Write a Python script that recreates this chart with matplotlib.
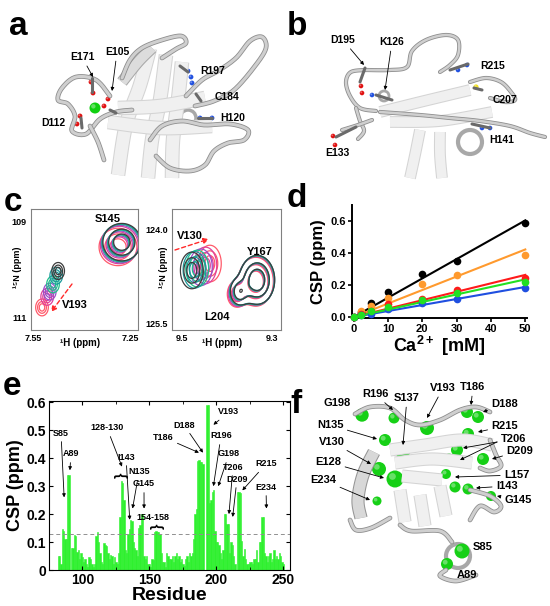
import numpy as np
import matplotlib
matplotlib.use("Agg")
import matplotlib.pyplot as plt
import matplotlib.patheffects as pe
from matplotlib.patches import Circle

plt.rcParams["font.family"] = ["Liberation Sans", "DejaVu Sans"]
plt.rcParams["font.weight"] = "bold"
plt.rcParams["axes.labelweight"] = "bold"
plt.rcParams["mathtext.fontset"] = "custom"
plt.rcParams["mathtext.rm"] = "Liberation Sans:bold"
plt.rcParams["mathtext.bf"] = "Liberation Sans:bold"

# ---------------- data ----------------
# panel d: CSP vs Ca2+ titration
ca_mM = [0, 2, 5, 10, 20, 30, 50]
csp_black = [0, 0.03, 0.085, 0.155, 0.27, 0.35, 0.59]
csp_orange = [0, 0.035, 0.07, 0.12, 0.205, 0.265, 0.39]
csp_red = [0, 0.02, 0.04, 0.08, 0.115, 0.17, 0.245]
csp_blue = [0, 0.01, 0.02, 0.05, 0.085, 0.115, 0.18]
csp_green = [0, 0.015, 0.04, 0.065, 0.105, 0.15, 0.22]

# panel e: CSP per residue (0 = no data)
first_residue = 82
csp_residue = [
    0.05, 0.05, 0.02, 0.145, 0.14, 0.11, 0.11, 0.34, 0.34, 0.0,
    0.08, 0.08, 0.125, 0.12, 0.065, 0.07, 0.04, 0.06, 0.045, 0.03,
    0.04, 0.02, 0.01, 0.045, 0.04, 0.02, 0.01, 0.02, 0.12, 0.135,
    0.1, 0.06, 0.03, 0.02, 0.095, 0.09, 0.085, 0.06, 0.04, 0.055,
    0.05, 0.02, 0.045, 0.03, 0.02, 0.06, 0.19, 0.32, 0.31, 0.25,
    0.07, 0.06, 0.13, 0.145, 0.18, 0.175, 0.1, 0.08, 0.07, 0.05,
    0.15, 0.16, 0.2, 0.2, 0.05, 0.04, 0.05, 0.02, 0.02, 0.01,
    0.04, 0.035, 0.135, 0.14, 0.135, 0.135, 0.13, 0.06, 0.03, 0.03,
    0.01, 0.06, 0.05, 0.04, 0.04, 0.05, 0.03, 0.05, 0.06, 0.04,
    0.05, 0.03, 0.04, 0.02, 0.015, 0.04, 0.05, 0.03, 0.06, 0.05,
    0.06, 0.11, 0.2, 0.22, 0.39, 0.395, 0.385, 0.385, 0.38, 0.0,
    0.0, 0.59, 0.59, 0.24, 0.25, 0.28, 0.285, 0.14, 0.1, 0.1,
    0.09, 0.06, 0.04, 0.07, 0.2, 0.2, 0.165, 0.165, 0.06, 0.1,
    0.09, 0.05, 0.02, 0.0, 0.28, 0.28, 0.275, 0.105, 0.05, 0.075,
    0.04, 0.02, 0.02, 0.03, 0.03, 0.02, 0.04, 0.04, 0.07, 0.03,
    0.1, 0.1, 0.19, 0.19, 0.06, 0.05, 0.03, 0.05, 0.06, 0.03,
    0.04, 0.07, 0.04, 0.05, 0.04, 0.06, 0.05, 0.03, 0.02,
]
csp_cutoff = 0.13

# labels in panel e: (label, residue of arrow tip, CSP of arrow tip)
e_labels = ["S85", "A89", "128-130", "I143", "N135", "G145", "T186", "D188",
            "V193", "R196", "G198", "T206", "D209", "R215", "E234"]
e_tip_res = [86.3, 90.6, 129.5, 135.3, 137.4, 146, 187, 190,
             197.8, 197.8, 201.4, 209.4, 212.2, 219.4, 237.4]
e_tip_csp = [0.26, 0.357, 0.37, 0.18, 0.22, 0.22, 0.42, 0.42,
             0.52, 0.30, 0.30, 0.20, 0.19, 0.285, 0.22]
e_braces = ["128-130", "154-158"]
e_brace_res = [129.5, 156]
e_brace_csp = [0.33, 0.145]

# panel c: peak centres per titration step (0 -> 50 mM)
v193_h = [7.472, 7.478, 7.488, 7.498, 7.506, 7.522]
v193_n = [110.02, 110.12, 110.30, 110.45, 110.56, 110.78]
s145_h = [7.275, 7.277, 7.278, 7.280, 7.283, 7.287]
s145_n = [109.42, 109.43, 109.44, 109.46, 109.48, 109.52]
v130_h = [9.478, 9.472, 9.466, 9.458, 9.448, 9.438]
v130_n = [124.66, 124.65, 124.63, 124.61, 124.58, 124.55]
y167_h = [9.333, 9.333, 9.334, 9.334, 9.335, 9.336]
y167_n = [124.81, 124.81, 124.82, 124.82, 124.83, 124.84]
l204_h = [9.372, 9.373, 9.374, 9.375, 9.377, 9.379]
l204_n = [125.00, 125.00, 125.01, 125.02, 125.03, 125.04]
step_colors = ["#3c3c3c", "#1a9a9a", "#1fc08a", "#9a4fc8", "#e0409a", "#ff5a6a"]

# structure panels: residue labels
a_labels = ["E171", "E105", "R197", "C184", "H120", "D112"]
b_labels = ["D195", "K126", "R215", "C207", "H141", "E133"]
f_labels = ["G198", "R196", "S137", "V193", "T186", "D188", "R215", "T206",
            "D209", "L157", "I143", "G145", "N135", "V130", "E128", "E234",
            "S85", "A89"]

# ---------------- figure ----------------
W, H = 550, 606
fig = plt.figure(figsize=(W / 100, H / 100), dpi=100)


def px_axes(l, t, r, b, **kw):
    return fig.add_axes([l / W, 1 - b / H, (r - l) / W, (b - t) / H], **kw)


ov = fig.add_axes([0, 0, 1, 1], zorder=10)
ov.set_xlim(0, W)
ov.set_ylim(H, 0)
ov.axis("off")
ov.patch.set_alpha(0)


def smooth(pts, n=14):
    p = np.asarray(pts, float)
    p = np.vstack([p[0], p, p[-1]])
    out = []
    t = np.linspace(0, 1, n, endpoint=False)[:, None]
    for i in range(1, len(p) - 2):
        p0, p1, p2, p3 = p[i - 1], p[i], p[i + 1], p[i + 2]
        out.append(0.5 * (2 * p1 + (-p0 + p2) * t
                          + (2 * p0 - 5 * p1 + 4 * p2 - p3) * t ** 2
                          + (-p0 + 3 * p1 - 3 * p2 + p3) * t ** 3))
    out.append(p[-2][None])
    return np.vstack(out)


def tube(pts, lw=2.2):
    c = smooth(pts)
    ov.plot(c[:, 0], c[:, 1], color="#cfcfcf", lw=lw, solid_capstyle="round",
            path_effects=[pe.Stroke(linewidth=lw + 1.2, foreground="#8e8e8e"), pe.Normal()])


def strand(pts, lw=9, face="#f0f0f0", edge="#d4d4d4"):
    c = smooth(pts)
    ov.plot(c[:, 0], c[:, 1], color=face, lw=lw, solid_capstyle="butt",
            path_effects=[pe.Stroke(linewidth=lw + 1.5, foreground=edge), pe.Normal()])


def ring(x, y, r, lw=2.5):
    ov.add_patch(Circle((x, y), r, fill=False, ec="#a8a8a8", lw=lw))


def stick(pts):
    p = np.asarray(pts, float)
    ov.plot(p[:, 0], p[:, 1], color="#6a6a6a", lw=2.2, solid_capstyle="round")


def ball(x, y, r, color):
    ov.add_patch(Circle((x, y), r, fc=color, ec="none"))
    ov.add_patch(Circle((x - r * 0.3, y - r * 0.3), r * 0.4, fc="white", ec="none", alpha=0.35))


def label(txt, xy, tip=None, size=7.5):
    if tip is None:
        ov.text(xy[0], xy[1], txt, ha="center", va="center", fontsize=size)
    else:
        ov.annotate(txt, xy=tip, xytext=xy, ha="center", va="center", fontsize=size,
                    arrowprops=dict(arrowstyle="-|>", lw=0.6, color="k",
                                    mutation_scale=5, shrinkA=1, shrinkB=0))


# panel letters
for letter, x, y in [("a", 9, 35), ("b", 287, 35), ("c", 4, 211),
                     ("d", 287, 207), ("e", 3, 395), ("f", 290, 413)]:
    ov.text(x, y, letter, fontsize=24, ha="left", va="baseline")

# ---------------- panel a (structure sketch) ----------------
for s in [[(150, 48), (140, 85), (126, 125), (118, 175)],
          [(166, 55), (160, 100), (152, 140), (148, 178)],
          [(182, 62), (178, 100), (173, 140), (172, 178)],
          [(118, 108), (160, 106), (205, 98)],
          [(108, 122), (160, 128), (212, 126)]]:
    strand(s)
strand([(122, 82), (138, 62), (152, 48)], lw=7, face="#dcdcdc", edge="#a8a8a8")
tube([(110, 96), (96, 80), (76, 77), (62, 88), (58, 100), (68, 104), (75, 116),
      (72, 131), (86, 134), (100, 119), (116, 112), (132, 110)])
tube([(122, 78), (130, 60), (142, 48), (162, 40), (181, 36), (186, 43), (176, 49), (162, 58)])
tube([(186, 96), (202, 80), (218, 71), (236, 58), (250, 41), (262, 37), (266, 48),
      (255, 66), (234, 90), (214, 101), (195, 106)])
tube([(150, 140), (162, 126), (182, 121), (204, 125), (230, 124), (248, 130), (244, 140),
      (228, 143), (214, 151), (205, 165), (190, 171), (170, 168), (156, 156)])
tube([(90, 126), (98, 142), (104, 160)])
ring(188, 118, 8)
stick([(92, 78), (92, 92)])
stick([(110, 110), (116, 113)])
stick([(81, 118), (82, 128)])
stick([(180, 66), (188, 72)])
stick([(196, 94), (201, 101)])
stick([(198, 118), (212, 118)])
for x, y in [(91, 82), (93, 93), (108, 99), (104, 106), (80, 116), (77, 124)]:
    ball(x, y, 2.4, "#e01010")
for x, y in [(188, 71), (191, 77), (192, 83), (200, 118), (212, 118)]:
    ball(x, y, 2.4, "#2050e0")
ball(202, 102, 2.6, "#f0e020")
ball(95, 108, 5.5, "#10d010")
label(a_labels[0], (82, 57), tip=(93, 77))
label(a_labels[1], (117, 52), tip=(112, 91))
label(a_labels[2], (213, 71))
label(a_labels[3], (227, 97))
label(a_labels[4], (233, 118))
label(a_labels[5], (53, 123))

# ---------------- panel b (structure sketch) ----------------
for s in [[(380, 112), (420, 102), (470, 90)],
          [(390, 122), (440, 121), (492, 112)],
          [(420, 130), (415, 155), (410, 178)],
          [(440, 132), (440, 155), (442, 178)]]:
    strand(s, lw=7)
tube([(366, 70), (351, 72), (346, 82), (350, 96), (360, 108), (376, 111)], lw=1.8)
tube([(366, 70), (390, 70), (407, 67), (412, 51), (426, 40), (446, 35), (458, 40),
      (458, 55), (450, 65), (440, 72)], lw=1.8)
tube([(470, 82), (486, 78), (501, 82), (511, 92), (515, 100), (505, 102), (490, 98)], lw=1.8)
tube([(356, 108), (360, 121), (364, 131), (358, 139)], lw=1.8)
tube([(380, 112), (420, 115), (450, 118), (480, 121), (510, 126), (530, 133), (545, 137)], lw=1.8)
tube([(342, 130), (358, 125), (372, 120)], lw=1.8)
ring(470, 142, 12, lw=3)
stick([(365, 68), (360, 82)])
stick([(376, 95), (392, 100)])
ring(384, 96, 5, lw=2)
stick([(450, 70), (468, 64)])
stick([(474, 88), (482, 90)])
stick([(472, 124), (490, 128)])
stick([(336, 137), (356, 127)])
for x, y in [(361, 86), (362, 93), (333, 136), (335, 145)]:
    ball(x, y, 2.3, "#e01010")
for x, y in [(372, 95), (458, 70), (467, 65), (482, 128), (490, 128)]:
    ball(x, y, 2.3, "#2050e0")
ball(476, 87, 2.6, "#f0e020")
label(b_labels[0], (343, 40), tip=(364, 65))
label(b_labels[1], (392, 42), tip=(385, 90))
label(b_labels[2], (493, 66))
label(b_labels[3], (505, 100))
label(b_labels[4], (502, 140))
label(b_labels[5], (337, 153))

# ---------------- panel c (HSQC overlays) ----------------
def peak(X, Y, h, n, sx, sy, amp=1.0):
    return amp * np.exp(-((X - h) ** 2 / (2 * sx ** 2) + (Y - n) ** 2 / (2 * sy ** 2)))


levels = [0.15, 0.4, 0.7]
ax_c1 = px_axes(31, 209, 138, 330)
X, Y = np.meshgrid(np.linspace(7.2, 7.6, 200), np.linspace(108.5, 111.5, 200))
for i in reversed(range(len(step_colors))):
    Z = peak(X, Y, s145_h[i], s145_n[i], 0.03, 0.2) + peak(X, Y, v193_h[i], v193_n[i], 0.010, 0.09)
    ax_c1.contour(X, Y, Z, levels=levels, colors=step_colors[i], linewidths=0.9)
ax_c1.set_xlim(7.556, 7.225)
ax_c1.set_ylim(111.25, 108.73)
ax_c1.set_xticks([7.55, 7.25], ["7.55", "7.25"])
ax_c1.set_yticks([109, 111], ["109", "111"])

ax_c2 = px_axes(172, 209, 281, 330)
X, Y = np.meshgrid(np.linspace(9.25, 9.55, 200), np.linspace(123.5, 125.8, 200))
for i in reversed(range(len(step_colors))):
    Z = (peak(X, Y, v130_h[i], v130_n[i], 0.013, 0.15)
         + peak(X, Y, y167_h[i], y167_n[i], 0.02, 0.2)
         + peak(X, Y, l204_h[i], l204_n[i], 0.012, 0.12, amp=0.6))
    ax_c2.contour(X, Y, Z, levels=levels, colors=step_colors[i], linewidths=0.9)
ax_c2.set_xlim(9.522, 9.28)
ax_c2.set_ylim(125.61, 123.68)
ax_c2.set_xticks([9.5, 9.3], ["9.5", "9.3"])
ax_c2.set_yticks([124.0, 125.5], ["124.0", "125.5"])
for ax in (ax_c1, ax_c2):
    ax.tick_params(length=0, labelsize=6.5, pad=3)
    for sp in ax.spines.values():
        sp.set_color("#808080")
        sp.set_linewidth(0.8)

for x in (18, 163):
    ov.text(x, 267, "¹⁵N (ppm)", rotation=90, ha="center", va="center", fontsize=6.5)
ov.text(80, 343, "¹H (ppm)", ha="center", va="center", fontsize=7)
ov.text(222, 343, "¹H (ppm)", ha="center", va="center", fontsize=7)
label("S145", (108, 219), size=8)
label("V193", (75, 305), size=8)
label("V130", (190, 236), size=8)
label("Y167", (260, 252), size=8)
label("L204", (217, 317), size=8)
for start, end in [((72, 284), (51, 312)), ((175, 250), (209, 239))]:
    ov.annotate("", xy=end, xytext=start,
                arrowprops=dict(arrowstyle="-|>", color="#ff2a2a", lw=1.0, ls=(0, (3, 2)),
                                mutation_scale=8, shrinkA=0, shrinkB=0))

# ---------------- panel d ----------------
ax_d = px_axes(352, 205, 527, 318)
ca = np.array(ca_mM, float)
xfit = np.array([0, ca.max()])
for vals, col in [(csp_black, "#000000"), (csp_orange, "#ff9a2e"), (csp_red, "#ff1a1a"),
                  (csp_blue, "#1f4fe0"), (csp_green, "#22e022")]:
    v = np.array(vals)
    k = np.sum(ca * v) / np.sum(ca * ca)
    ax_d.plot(xfit, k * xfit, color=col, lw=1.5, zorder=2)
    ax_d.plot(ca, v, "o", color=col, ms=5.5, mec="none", zorder=3, clip_on=False)
ax_d.set_xlim(-0.5, 50.5)
ax_d.set_ylim(-0.006, 0.7)
ax_d.set_xticks([0, 10, 20, 30, 40, 50])
ax_d.set_yticks([0.0, 0.2, 0.4, 0.6], ["0.0", "0.2", "0.4", "0.6"])
ax_d.spines[["top", "right"]].set_visible(False)
for sp in ax_d.spines.values():
    sp.set_linewidth(1.4)
ax_d.tick_params(width=1.2, length=3, labelsize=8, pad=1.5)
ax_d.set_ylabel("CSP (ppm)", fontsize=12, labelpad=3)
ax_d.set_xlabel(r"Ca$^{\mathbf{2+}}$ [mM]", fontsize=13, labelpad=0)

# ---------------- panel e ----------------
ax_e = px_axes(49, 401, 290, 570)
residues = np.arange(first_residue, first_residue + len(csp_residue))
ax_e.bar(residues, csp_residue, width=1.0, color="#2ef02e", edgecolor="#2ef02e", linewidth=0.4)
ax_e.axhline(csp_cutoff, color="#909090", lw=0.7, ls=(0, (4, 3)))
ax_e.set_xlim(81, 255)
ax_e.set_ylim(0, 0.605)
ax_e.set_xticks([100, 150, 200, 250])
ax_e.set_xticks(np.arange(75, 256, 25), minor=True)
ax_e.set_yticks(np.arange(0, 0.61, 0.1), ["0", "0.1", "0.2", "0.3", "0.4", "0.5", "0.6"])
ax_e.tick_params(direction="in", top=True, right=True, length=3, labelsize=10, pad=2)
ax_e.tick_params(which="minor", direction="in", top=True, length=2)
ax_e.set_ylabel("CSP (ppm)", fontsize=13, labelpad=2)
ax_e.set_xlabel("Residue", fontsize=14, labelpad=0)

e_text_px = [(61, 433), (71, 454), (107, 428), (126, 457), (139, 472), (144, 484),
             (163, 437), (184, 425), (229, 412), (221, 436), (229, 454), (233, 467),
             (237, 479), (266, 464), (266, 487)]
for lab, r, v, pos in zip(e_labels, e_tip_res, e_tip_csp, e_text_px):
    ax_e.annotate(lab, xy=(r, v), xytext=pos, textcoords=ov.transData,
                  ha="center", va="center", fontsize=6.5,
                  arrowprops=dict(arrowstyle="-|>", lw=0.6, color="k",
                                  mutation_scale=5, shrinkA=1, shrinkB=0))
ov.text(153, 517, "154-158", ha="center", va="center", fontsize=6.5)
for r, v in zip(e_brace_res, e_brace_csp):
    ax_e.text(r, v, "}", rotation=90, ha="center", va="bottom", fontsize=10)

# ---------------- panel f (structure sketch) ----------------
strand([(374, 452), (363, 475), (358, 500), (361, 518)], lw=8, face="#d8d8d8", edge="#959595")
for s in [[(390, 450), (425, 445), (462, 440), (492, 445)],
          [(395, 463), (432, 459), (472, 463)],
          [(402, 476), (442, 480)],
          [(400, 490), (405, 522)],
          [(420, 495), (425, 526)],
          [(440, 486), (446, 516)]]:
    strand(s, lw=8)
tube([(355, 414), (370, 407), (390, 408), (405, 420), (420, 425), (440, 420),
      (460, 410), (476, 407), (490, 412)])
tube([(490, 440), (496, 455), (501, 466), (490, 471), (480, 468)])
tube([(470, 490), (490, 496), (501, 506), (494, 512), (480, 506), (470, 520)])
tube([(350, 520), (356, 530), (371, 528), (390, 518)])
tube([(400, 525), (411, 531), (440, 531), (452, 542)])
tube([(446, 570), (440, 576), (456, 581), (476, 575)])
ring(458, 556, 12, lw=3)

f_sphere_px = [(362, 415, 6.7), (394, 418, 5.5), (403, 454, 6.5), (427, 428, 7),
               (467, 412, 6), (478, 417, 6), (468, 434, 6), (457, 450, 6),
               (483, 459, 6), (446, 474, 5), (468, 489, 5.5), (491, 496, 5),
               (385, 440, 6), (379, 469, 7), (395, 479, 8.5), (377, 501, 4.5),
               (462, 551, 7.5), (447, 564, 6)]
for x, y, r in f_sphere_px:
    ball(x, y, r, "#16d016")
ball(449, 459, 5.5, "#16d016")
ball(455, 487, 5.5, "#16d016")

f_text_px = [(337, 403), (375, 394), (407, 398), (443, 388), (473, 387), (505, 404),
             (505, 426), (514, 439), (520, 451), (517, 475), (507, 486), (518, 500),
             (330, 425), (332, 442), (328, 462), (323, 480), (483, 547), (467, 575)]
f_tip_px = [None, (393, 410), (403, 445), (427, 418), (471, 405), (483, 412),
            (478, 432), (463, 448), (492, 459), (455, 477), (476, 488), (497, 496),
            (377, 439), (371, 464), (384, 478), (370, 500), None, None]
for lab, pos, tip in zip(f_labels, f_text_px, f_tip_px):
    label(lab, pos, tip=tip, size=8)
ov.annotate("", xy=(460, 460), xytext=(497, 442),
            arrowprops=dict(arrowstyle="-|>", lw=0.6, color="k", mutation_scale=5,
                            shrinkA=0, shrinkB=0))

fig.savefig("out.png", dpi=100)
